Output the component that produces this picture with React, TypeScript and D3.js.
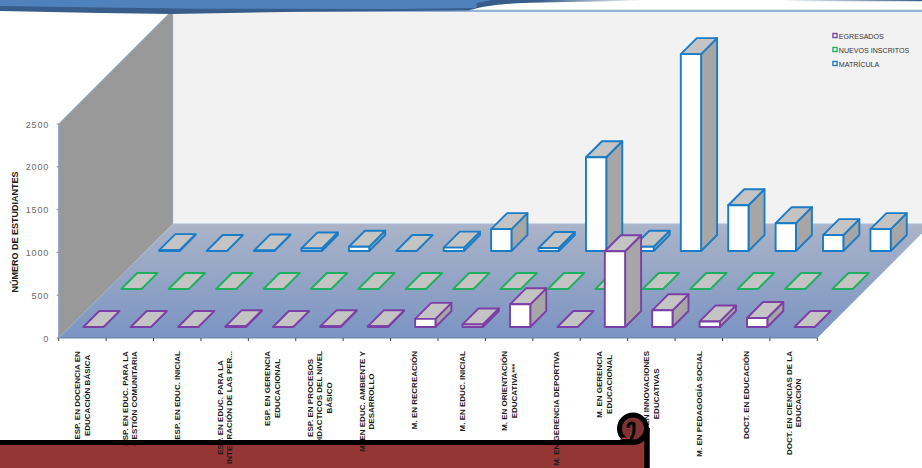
import React from "react";
import * as d3 from "d3";

const categories: string[][] = [
  ["ESP. EN DOCENCIA EN", "EDUCACIÓN BÁSICA"],
  ["ESP. EN EDUC. PARA LA", "GESTIÓN COMUNITARIA"],
  ["ESP. EN EDUC. INICIAL"],
  ["ESP. EN EDUC. PARA LA", "INTEGRACIÓN DE LAS PER..."],
  ["ESP. EN GERENCIA", "EDUCACIONAL"],
  ["ESP. EN PROCESOS", "DIDACTICOS DEL NIVEL", "BÁSICO"],
  ["M. EN EDUC. AMBIENTE Y", "DESARROLLO"],
  ["M. EN RECREACIÓN"],
  ["M. EN EDUC. INICIAL"],
  ["M. EN ORIENTACIÓN", "EDUCATIVA***"],
  ["M. EN GERENCIA DEPORTIVA"],
  ["M. EN GERENCIA", "EDUCACIONAL"],
  ["M. EN INNOVACIONES", "EDUCATIVAS"],
  ["M. EN PEDAGOGÍA SOCIAL"],
  ["DOCT. EN EDUCACIÓN"],
  ["DOCT. EN CIENCIAS DE LA", "EDUCACIÓN"],
];
const egresados = [0, 0, 0, 8, 0, 8, 8, 95, 30, 265, 0, 885, 195, 65, 105, 0];
const nuevos = [0, 0, 0, 0, 0, 0, 0, 0, 0, 0, 0, 0, 0, 0, 0, 0];
const matricula = [10, 0, 5, 30, 50, 0, 40, 255, 35, 1095, 50, 2300, 535, 325, 185, 255];
const yTicks = [0, 500, 1000, 1500, 2000, 2500];
const seriesNames = ["EGRESADOS", "NUEVOS INSCRITOS", "MATRÍCULA"];
const seriesColors = ["#7b3fa5", "#1eb060", "#1a7cc6"];
const seriesValues = [egresados, nuevos, matricula];

const FONT = "'Liberation Sans', Arial, sans-serif";
const W = 922, H = 468;
const X0 = 58.7, X1 = 817.3, Y0 = 338, DEPTH = 114, PLOT_H = 214;

const xScale = d3.scaleBand<number>().domain(d3.range(categories.length)).range([X0, X1]);
const zScale = d3.scaleBand<string>().domain(seriesNames).range([0, DEPTH]);
const hScale = d3.scaleLinear().domain([0, 2500]).range([0, PLOT_H]);
const BAR_W = 20.3, BAR_D = 16;

const pts = (p: number[][]) => p.map((q) => q.join(",")).join(" ");

function measure(text: string, font: string) {
  const ctx = document.createElement("canvas").getContext("2d")!;
  ctx.font = font;
  return ctx.measureText(text).width;
}

function Bar({ i, value, s }: { i: number; value: number; s: number }) {
  const off = zScale(seriesNames[s])! + (zScale.bandwidth() - BAR_D) / 2;
  const x = xScale(i)! + (xScale.bandwidth() - BAR_W) / 2 + off;
  const base = Y0 - off;
  const h = hScale(value);
  const y = base - h;
  const c = seriesColors[s];
  const common = { stroke: c, strokeWidth: 1.9, strokeLinejoin: "round" as const };
  return (
    <g>
      {h > 0 && <polygon points={pts([[x + BAR_W, y], [x + BAR_W + BAR_D, y - BAR_D], [x + BAR_W + BAR_D, base - BAR_D], [x + BAR_W, base]])} fill="#a6a6a6" {...common} />}
      <polygon points={pts([[x, y], [x + BAR_W, y], [x + BAR_W + BAR_D, y - BAR_D], [x + BAR_D, y - BAR_D]])} fill="#c4c4c4" {...common} />
      {h > 0 && <rect x={x} y={y} width={BAR_W} height={h} fill="#fff" {...common} />}
    </g>
  );
}

export default function App() {
  const labelFont = `bold 8px ${FONT}`;
  return (
    <svg width={W} height={H} viewBox={`0 0 ${W} ${H}`} style={{ position: "fixed", left: 0, top: 0, background: "#fff" }}>
      <defs>
        <linearGradient id="floor" x1="0" y1="0" x2="0" y2="1">
          <stop offset="0" stopColor="#abb4c8" />
          <stop offset="1" stopColor="#7a94c3" />
        </linearGradient>
        <linearGradient id="fade" gradientUnits="userSpaceOnUse" x1="540" y1="0" x2="645" y2="0">
          <stop offset="0" stopColor="#385d8a" />
          <stop offset="1" stopColor="#385d8a" stopOpacity="0" />
        </linearGradient>
        <linearGradient id="fadeR" gradientUnits="userSpaceOnUse" x1="780" y1="0" x2="922" y2="0">
          <stop offset="0" stopColor="#385d8a" stopOpacity="0" />
          <stop offset="1" stopColor="#385d8a" />
        </linearGradient>
      </defs>

      {/* walls */}
      <rect x={X0 + DEPTH} y={Y0 - DEPTH - PLOT_H} width={W - X0 - DEPTH} height={PLOT_H} fill="#f2f2f2" />
      <line x1={X0 + DEPTH} x2={W} y1={Y0 - DEPTH - PLOT_H + 0.8} y2={Y0 - DEPTH - PLOT_H + 0.8} stroke="#95b3d7" strokeWidth={2.2} />
      <line x1={X0 + DEPTH} x2={X0 + DEPTH} y1={Y0 - DEPTH - PLOT_H} y2={Y0 - DEPTH} stroke="#95b3d7" strokeWidth={1} />
      <polygon
        points={pts([[X0, Y0 - PLOT_H], [X0 + DEPTH, Y0 - DEPTH - PLOT_H], [X0 + DEPTH, Y0 - DEPTH], [X0, Y0]])}
        fill="#999999"
      />
      <line x1={X0} y1={Y0 - PLOT_H} x2={X0 + DEPTH} y2={Y0 - DEPTH - PLOT_H} stroke="#7f9fcb" strokeWidth={1} />
      <line x1={X0} y1={Y0 - PLOT_H} x2={X0} y2={Y0} stroke="#7f9fcb" strokeWidth={1} />
      <polygon
        points={pts([[X0, Y0], [X1, Y0], [X1 + DEPTH, Y0 - DEPTH], [X0 + DEPTH, Y0 - DEPTH]])}
        fill="url(#floor)"
      />
      <line x1={X0} x2={X1} y1={Y0} y2={Y0} stroke="#6b83a8" strokeWidth={1} />
      <line x1={X0 + DEPTH} x2={W} y1={Y0 - DEPTH} y2={Y0 - DEPTH} stroke="#a9bcd6" strokeWidth={1} />

      {/* bars, back series first */}
      {[2, 1, 0].map((s) =>
        seriesValues[s].map((v, i) => <Bar key={`${s}-${i}`} i={i} value={v} s={s} />)
      )}

      {/* x ticks */}
      {d3.range(categories.length + 1).map((i) => {
        const x = X0 + i * xScale.bandwidth();
        return <line key={i} x1={x} x2={x} y1={Y0} y2={Y0 + 3} stroke="#444" strokeWidth={1} />;
      })}

      {/* y axis */}
      {yTicks.map((t) => (
        <g key={t}>
          <line x1={X0 - 2} x2={X0} y1={Y0 - hScale(t)} y2={Y0 - hScale(t)} stroke="#888" strokeWidth={1} />
          <text x={49} y={Y0 - hScale(t) + 3.5} textAnchor="end" fontFamily={FONT} fontSize={9} letterSpacing={0.8} fill="#6a6a6a">
            {t}
          </text>
        </g>
      ))}
      <text
        transform="translate(18,232) rotate(-90)"
        textAnchor="middle"
        fontFamily={FONT}
        fontSize={9}
        fontWeight="bold"
        fill="#1a1a1a"
      >
        NÚMERO DE ESTUDIANTES
      </text>

      {/* legend */}
      {[0, 1, 2].map((s) => (
        <g key={s}>
          <rect x={833} y={33.5 + s * 14} width={4} height={4} fill="#fff" stroke={seriesColors[s]} strokeWidth={1.4} />
          <text x={838.8} y={38.5 + s * 14} fontFamily={FONT} fontSize={7.1} fill="#333">
            {seriesNames[s]}
          </text>
        </g>
      ))}

      {/* top ribbon */}
      <path d="M0,4 L470,7 L480,0 L640,0 L640,0.5 C600,1.5 560,2 530,2.8 C505,3.8 495,5 480,7.5 L468,10.5 L300,11.8 L172,14 L100,13 L0,11 Z" fill="url(#fade)" />
      <path d="M0,0 L492,0 L477,3 L476,8 L400,9 L200,8.8 L100,7.5 L0,6 Z" fill="#4f81bd" />
      <rect x={780} y={0} width={142} height={1.2} fill="url(#fadeR)" />

      {/* scroll panel: fill, labels, outline */}
      <path d="M0,442.5 L633,442.5 L647,430 L647,468 L0,468 Z" fill="#943634" />
      {categories.map((lines, i) => {
        const cx = xScale(i)! + xScale.bandwidth() / 2;
        const maxW = d3.max(lines, (l) => measure(l, labelFont))!;
        const midY = 351 + maxW / 2;
        return lines.map((l, k) => (
          <text
            key={k}
            transform={`translate(${cx + (k - (lines.length - 1) / 2) * 9.6 + 2.8},${midY}) rotate(-90)`}
            textAnchor="middle"
            fontFamily={FONT}
            fontSize={8}
            fontWeight="bold"
            fill="#1a1a1a"
          >
            {l}
          </text>
        ));
      })}
      <circle cx={633} cy={428.5} r={13.5} fill="#7f3232" stroke="#000" strokeWidth={5} />
      <path d="M620,441 L626,441 C630,441 634,436 634,431 L634,424 C632,422 628,423 628,428" fill="none" stroke="#000" strokeWidth={3} />
      <path d="M0,442.5 L633,442.5 C641,442.5 647,436 647,428" fill="none" stroke="#000" strokeWidth={5} />
      <line x1={647} x2={647} y1={428} y2={468} stroke="#000" strokeWidth={5.5} />
      <rect x={622} y={437.5} width={8} height={1.6} fill="#b03a3a" />
    </svg>
  );
}
